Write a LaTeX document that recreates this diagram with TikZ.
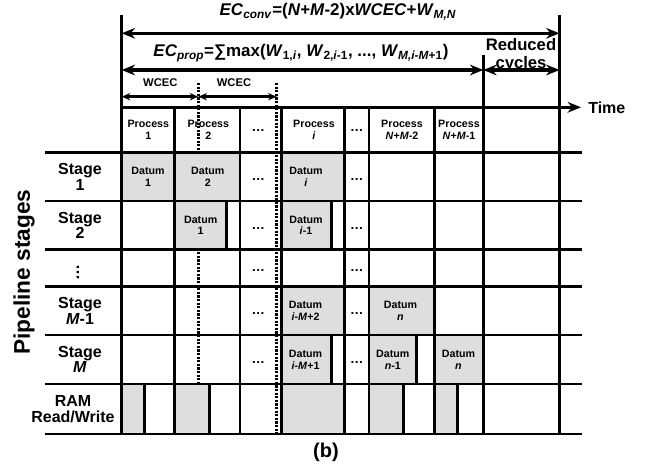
\documentclass[tikz,border=0pt]{standalone}
\usepackage{fontspec}
\setmainfont{Liberation Sans}
\definecolor{datumgray}{rgb}{0.87,0.87,0.87}
\usetikzlibrary{arrows.meta,positioning}

\begin{document}
\begin{tikzpicture}[x=0.75pt,y=0.75pt,yscale=-1,xscale=1,
	gridline/.style={line width=1.9pt},
	dotline/.style={line width=2.6pt,dash pattern={on 1.6pt off 1.1pt}},
	bigspan/.style={line width=2.3pt,{Stealth[length=10pt,width=8pt]}-{Stealth[length=10pt,width=8pt]}},
	smallspan/.style={line width=1.9pt,{Stealth[length=6.5pt,width=5.5pt]}-{Stealth[length=6.5pt,width=5.5pt]}},
	datum/.style={fill=datumgray,draw=black,line width=1.9pt},
	celltext/.style={font=\bfseries\fontsize{8}{8.8}\selectfont,align=center,inner sep=0pt},
	dotstext/.style={font=\bfseries\fontsize{10}{10}\selectfont,inner sep=0pt},
	stagetext/.style={font=\bfseries\fontsize{12}{11.6}\selectfont,align=center,inner sep=0pt},
	formula/.style={font=\bfseries\fontsize{12.7}{13}\selectfont,inner sep=0pt}]
	\useasboundingbox (0,0) rectangle (651,471);
	
	% Text Node: header row
	\draw (148.3,129.8) node (proc1) [celltext] {Process\\1};
	\draw (208.3,129.8) node (proc2) [celltext] {Process\\2};
	\draw (258.3,131) node (hdots1) [dotstext] {\textellipsis};
	\draw (314,129.8) node (proci) [celltext] {Process\\\textit{i}};
	\draw (356.7,131) node (hdots2) [dotstext] {\textellipsis};
	\draw (402,129.8) node (procA) [celltext] {Process\\\textit{N}+\textit{M}-2};
	\draw (459,129.8) node (procB) [celltext] {Process\\\textit{N}+\textit{M}-1};
	
	%Straight Lines: dotted WCEC bounds
	\draw [dotline] (198.3,83) -- (198.3,434) ;
	\draw [dotline] (276.7,83) -- (276.7,434) ;
	
	%Shapes: grey datum boxes
	\draw [datum] (121.7,152.3) rectangle (174.7,201) ;
	\draw [datum] (174.7,152.3) rectangle (240,201) ;
	\draw [datum] (281.7,152.3) rectangle (344.3,201) ;
	\draw [datum] (174.7,201) rectangle (226.7,249.3) ;
	\draw [datum] (281.7,201) rectangle (331.7,249.3) ;
	\draw [datum] (281.7,286.7) rectangle (344.3,335) ;
	\draw [datum] (369,286.7) rectangle (434.3,335) ;
	\draw [datum] (281.7,335) rectangle (331.7,384) ;
	\draw [datum] (369,335) rectangle (416.7,384) ;
	\draw [datum] (434.3,335) rectangle (483.3,384) ;
	%Shapes: RAM accesses
	\draw [datum] (121.7,384) rectangle (144.3,434) ;
	\draw [datum] (174.7,384) rectangle (209.3,434) ;
	\draw [datum] (281.7,384) rectangle (344.3,434) ;
	\draw [datum] (369,384) rectangle (403.3,434) ;
	\draw [datum] (434.3,384) rectangle (457.3,434) ;
	
	%Straight Lines: rows
	\draw [gridline] (45,152.3) -- (581.7,152.3) ;
	\draw [gridline] (45,201) -- (581.7,201) ;
	\draw [gridline] (45,249.3) -- (581.7,249.3) ;
	\draw [gridline] (45,286.7) -- (581.7,286.7) ;
	\draw [gridline] (45,335) -- (581.7,335) ;
	\draw [gridline] (45,384) -- (581.7,384) ;
	\draw [gridline] (45,434) -- (581.7,434) ;
	%Straight Lines: columns
	\draw [gridline] (121.7,15) -- (121.7,434) ;
	\draw [gridline] (174.7,107.3) -- (174.7,434) ;
	\draw [gridline] (240,107.3) -- (240,434) ;
	\draw [gridline] (281.7,107.3) -- (281.7,434) ;
	\draw [gridline] (344.3,107.3) -- (344.3,434) ;
	\draw [gridline] (369,107.3) -- (369,434) ;
	\draw [gridline] (434.3,107.3) -- (434.3,434) ;
	\draw [gridline] (483.3,55) -- (483.3,434) ;
	\draw [gridline] (559.5,15) -- (559.5,434) ;
	
	% Text Node
	\draw (338,12) node (conv) [formula] {\textit{EC}\textsubscript{\textit{conv}}=(\textit{N}+\textit{M}-2)x\textit{WCEC}+\textit{W}\textsubscript{\textit{M,N}}};
	% Text Node
	\draw (301,53) node (prop) [formula] {\textit{EC}\textsubscript{\textit{prop}}=∑max(\textit{W}\textsubscript{1,\textit{i}}, \textit{W}\textsubscript{2,\textit{i}-1}, ..., \textit{W}\textsubscript{\textit{M,i-M}+1})};
	% Text Node
	\draw (521,55) node (reduced) [stagetext,font=\bfseries\fontsize{12.5}{13.5}\selectfont] {Reduced\\cycles};
	% Text Node
	\draw (160.3,83) node (wcec1) [celltext,font=\bfseries\fontsize{8.4}{9}\selectfont] {WCEC};
	% Text Node
	\draw (234,83) node (wcec2) [celltext,font=\bfseries\fontsize{8.4}{9}\selectfont] {WCEC};
	% Text Node
	\draw (588,107.3) node (time) [anchor=west,stagetext] {Time};
	
	%Coordinates for the spans
	\coordinate (convL) at (121.7,33.3);
	\coordinate (convR) at (559.5,33.3);
	\coordinate (propL) at (121.7,70);
	\coordinate (propR) at (483.3,70);
	\coordinate (redR) at (559.5,70);
	\coordinate (wcecA) at (121.7,96.7);
	\coordinate (wcecB) at (198.3,96.7);
	\coordinate (wcecC) at (276.7,96.7);
	\coordinate (timeL) at (120.7,107.3);
	\coordinate (timeR) at (581,107.3);
	%Arrows
	\draw [bigspan] (convL) -- (convR) ;
	\draw [bigspan] (propL) -- (propR) ;
	\draw [bigspan] (propR) -- (redR) ;
	\draw [smallspan] (wcecA) -- (wcecB) ;
	\draw [smallspan] (wcecB) -- (wcecC) ;
	\draw [line width=2.3pt,-{Stealth[length=10pt,width=8pt]}] (timeL) -- (timeR) ;
	
	% Text Node: stage labels
	\draw (80,176.7) node (st1) [stagetext] {Stage\\1};
	\draw (80,225.2) node (st2) [stagetext] {Stage\\2};
	\draw (78,272) node (stdots) [rotate=90,font=\bfseries\fontsize{12}{12}\selectfont,inner sep=0pt] {\textellipsis};
	\draw (80,310.9) node (stM1) [stagetext] {Stage\\\textit{M}-1};
	\draw (80,359.5) node (stM) [stagetext] {Stage\\\textit{M}};
	\draw (73,409) node (ram) [stagetext] {RAM\\Read/Write};
	\draw (24,272) node (pipe) [rotate=90,font=\bfseries\fontsize{17}{17}\selectfont,inner sep=0pt] {Pipeline stages};
	
	% Text Node: data
	\draw (148,176.7) node (d11) [celltext] {Datum\\1};
	\draw (207.8,176.7) node (d12) [celltext] {Datum\\2};
	\draw (306,176.7) node (d1i) [celltext] {Datum\\\textit{i}};
	\draw (200.7,225.2) node (d21) [celltext] {Datum\\1};
	\draw (306,225.2) node (d2i) [celltext] {Datum\\\textit{i}-1};
	\draw (305.5,310.9) node (dAi) [celltext] {Datum\\\textit{i}-\textit{M}+2};
	\draw (400.5,310.9) node (dAn) [celltext] {Datum\\\textit{n}};
	\draw (305.5,359.5) node (dBi) [celltext] {Datum\\\textit{i}-\textit{M}+1};
	\draw (392.8,359.5) node (dBn1) [celltext] {Datum\\\textit{n}-1};
	\draw (458.5,359.5) node (dBn) [celltext] {Datum\\\textit{n}};
	
	% Text Node: ellipsis cells
	\draw (258.3,180) node (e1a) [dotstext] {\textellipsis};
	\draw (258.3,228.5) node (e2a) [dotstext] {\textellipsis};
	\draw (258.3,271) node (e3a) [dotstext] {\textellipsis};
	\draw (258.3,314) node (e4a) [dotstext] {\textellipsis};
	\draw (258.3,362.5) node (e5a) [dotstext] {\textellipsis};
	\draw (356.7,180) node (e1b) [dotstext] {\textellipsis};
	\draw (356.7,228.5) node (e2b) [dotstext] {\textellipsis};
	\draw (356.7,271) node (e3b) [dotstext] {\textellipsis};
	\draw (356.7,314) node (e4b) [dotstext] {\textellipsis};
	\draw (356.7,362.5) node (e5b) [dotstext] {\textellipsis};
	
	% Text Node
	\draw (326,452) node (caption) [font=\bfseries\fontsize{15}{15}\selectfont,inner sep=0pt] {(b)};
	
\end{tikzpicture}
\end{document}
